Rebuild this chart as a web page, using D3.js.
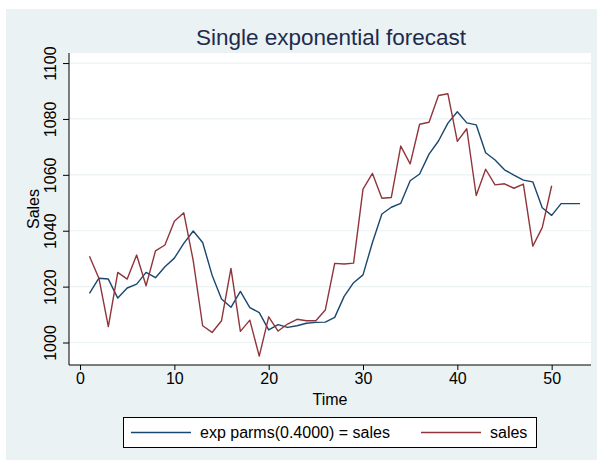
<!DOCTYPE html>
<html>
<head>
<meta charset="utf-8">
<script src="https://cdn.jsdelivr.net/npm/d3@7"></script>
<style>
  body { margin: 0; background: #fff; }
  svg { display: block; font-family: "Liberation Sans", Arial, Helvetica, sans-serif; }
</style>
</head>
<body>
<div id="chart"></div>
<script>
// observed sales, t = 1..50
var sales = [1030.9, 1023.0, 1005.7, 1025.1, 1022.7, 1031.3, 1020.3, 1032.8, 1034.9, 1043.4,
             1046.4, 1029.3, 1006.0, 1003.6, 1007.8, 1026.5, 1004.0, 1008.0, 995.1, 1009.2,
             1004.1, 1006.6, 1008.3, 1007.8, 1007.8, 1011.6, 1028.3, 1028.1, 1028.4, 1054.9,
             1060.5, 1051.6, 1051.9, 1070.3, 1063.9, 1078.1, 1078.8, 1088.4, 1089.0, 1072.0,
             1076.5, 1052.6, 1062.0, 1056.4, 1056.8, 1055.2, 1056.7, 1034.5, 1041.1, 1056.1];

// exp parms(0.4000) forecast, t = 1..53
var forecast = [1017.6, 1023.0, 1022.7, 1015.9, 1019.5, 1020.9, 1025.1, 1023.2, 1027.1, 1030.2,
                1035.5, 1039.9, 1035.8, 1024.1, 1015.6, 1012.6, 1018.3, 1012.5, 1010.7, 1004.5,
                1006.4, 1005.4, 1006.0, 1006.9, 1007.2, 1007.3, 1009.0, 1016.5, 1021.4, 1024.2,
                1035.8, 1046.0, 1048.4, 1049.8, 1057.9, 1060.3, 1067.4, 1072.1, 1078.5, 1082.6,
                1078.6, 1077.9, 1067.9, 1065.3, 1061.8, 1059.9, 1058.1, 1057.5, 1048.2, 1045.5,
                1049.7, 1049.7, 1049.7];

var xTicks = [0, 10, 20, 30, 40, 50];
var yTicks = [1000, 1020, 1040, 1060, 1080, 1100];

var W = 597, H = 460;
var plot = {left: 69, right: 591, top: 53, bottom: 365};

var svg = d3.select("#chart").append("svg")
    .attr("width", W).attr("height", H);

// outer graph region
svg.append("rect")
    .attr("x", 6).attr("y", 9)
    .attr("width", W - 6).attr("height", H - 9)
    .attr("fill", "#eaf2f3");

// plot region
svg.append("rect")
    .attr("x", plot.left).attr("y", plot.top)
    .attr("width", plot.right - plot.left).attr("height", plot.bottom - plot.top)
    .attr("fill", "#ffffff");

var x = d3.scaleLinear().domain([-1.17, 54.17]).range([plot.left, plot.right]);
var y = d3.scaleLinear().domain([991.95, 1103.6]).range([plot.bottom, plot.top]);

// gridlines
svg.append("g").selectAll("line")
    .data(yTicks)
    .enter().append("line")
    .attr("x1", plot.left).attr("x2", plot.right)
    .attr("y1", function(d){ return y(d); })
    .attr("y2", function(d){ return y(d); })
    .attr("stroke", "#eaf2f3")
    .attr("stroke-width", 1.2);

// y axis
var yAxis = svg.append("g")
    .attr("transform", "translate(" + plot.left + ",0)")
    .call(d3.axisLeft(y).tickValues(yTicks).tickFormat(d3.format("d"))
        .tickSize(6).tickSizeOuter(0));
yAxis.select(".domain").attr("stroke", "#000").attr("d", "M0," + plot.top + "V" + plot.bottom);
yAxis.selectAll(".tick line").attr("stroke", "#000");
yAxis.selectAll(".tick text")
    .attr("font-size", 16).attr("fill", "#000")
    .attr("text-anchor", "middle")
    .attr("x", 0).attr("dy", 0)
    .attr("transform", "translate(-13,0) rotate(-90)");

// x axis
var xAxis = svg.append("g")
    .attr("transform", "translate(0," + plot.bottom + ")")
    .call(d3.axisBottom(x).tickValues(xTicks).tickSize(5).tickSizeOuter(0).tickPadding(3));
xAxis.select(".domain").attr("stroke", "#000").attr("d", "M" + plot.left + ",0H" + plot.right);
xAxis.selectAll(".tick line").attr("stroke", "#000");
xAxis.selectAll(".tick text").attr("font-size", 16).attr("fill", "#000");

// lines
var line = d3.line()
    .x(function(d, i){ return x(i + 1); })
    .y(function(d){ return y(d); });

svg.append("path").datum(forecast)
    .attr("d", line)
    .attr("fill", "none")
    .attr("stroke", "#1a476f")
    .attr("stroke-width", 1.4)
    .attr("stroke-linejoin", "round");

svg.append("path").datum(sales)
    .attr("d", line)
    .attr("fill", "none")
    .attr("stroke", "#90353b")
    .attr("stroke-width", 1.4)
    .attr("stroke-linejoin", "round");

// titles
svg.append("text")
    .attr("x", 331).attr("y", 45)
    .attr("text-anchor", "middle")
    .attr("font-size", 22.5)
    .attr("fill", "#1e2b4d")
    .text("Single exponential forecast");

svg.append("text")
    .attr("x", 330).attr("y", 405)
    .attr("text-anchor", "middle")
    .attr("font-size", 16)
    .text("Time");

svg.append("text")
    .attr("transform", "translate(39," + ((plot.top + plot.bottom) / 2) + ") rotate(-90)")
    .attr("text-anchor", "middle")
    .attr("font-size", 16)
    .text("Sales");

// legend
var legend = svg.append("g");
legend.append("rect")
    .attr("x", 123.5).attr("y", 417.5)
    .attr("width", 413).attr("height", 30)
    .attr("fill", "#fff").attr("stroke", "#000").attr("stroke-width", 1);

var legendItems = [
    {label: "exp parms(0.4000) = sales", color: "#1a476f", x0: 131},
    {label: "sales", color: "#90353b", x0: 421}
];
legendItems.forEach(function(d){
    legend.append("line")
        .attr("x1", d.x0).attr("x2", d.x0 + 60)
        .attr("y1", 432.5).attr("y2", 432.5)
        .attr("stroke", d.color).attr("stroke-width", 1.4);
    legend.append("text")
        .attr("x", d.x0 + 69).attr("y", 438)
        .attr("font-size", 16)
        .text(d.label);
});
</script>
</body>
</html>
